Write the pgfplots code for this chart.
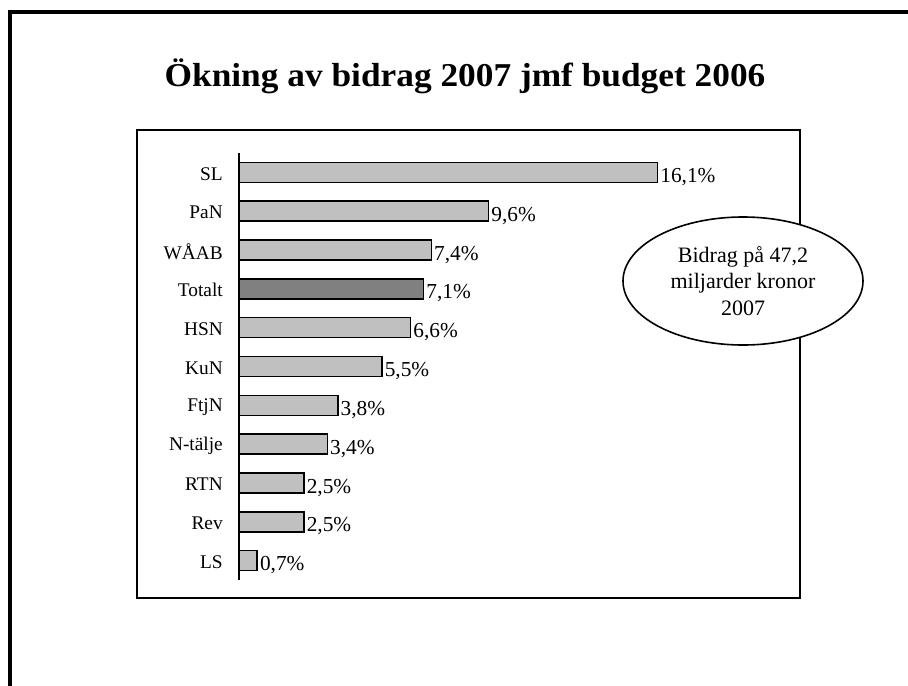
\documentclass[border=0pt]{standalone}
\usepackage{fontspec}
\setmainfont{Liberation Serif}
\usepackage{pgfplots}
\pgfplotsset{compat=1.18}
\definecolor{barfill}{HTML}{C0C0C0}
\definecolor{totfill}{HTML}{808080}

\begin{document}
\begin{tikzpicture}
% page in pixel units, origin top-left
\begin{scope}[x=0.75pt,y=-0.75pt]
\useasboundingbox (0,0) rectangle (908,686);
% outer frame (runs off the right and bottom edges)
\draw[line width=2.4pt] (10,720) -- (10,12) -- (930,12);
% chart box
\draw[line width=1.5pt] (137,130) rectangle (800,598);
\node[anchor=base, inner sep=0pt, font=\bfseries\fontsize{25}{30}\selectfont] at (465,86)
  {\scalebox{1.06}[1]{Ökning av bidrag 2007 jmf budget 2006}};
\end{scope}

\begin{axis}[
  at={(179.25pt,-435pt)}, anchor=south west,
  scale only axis, width=390pt, height=320.25pt,
  xmin=0, xmax=20, ymin=-0.5, ymax=10.5,
  y dir=reverse,
  xbar, bar width=15pt, bar shift=0pt,
  axis x line=none, axis y line=left,
  y axis line style={-, line width=1.1pt},
  ytick={0,...,10},
  yticklabels={SL,PaN,WÅAB,Totalt,HSN,KuN,FtjN,N-tälje,RTN,Rev,LS},
  major tick length=0pt,
  yticklabel style={font=\fontsize{14.5}{16}\selectfont, inner sep=0pt, xshift=-12pt, yshift=-1pt},
  nodes near coords, point meta=explicit symbolic,
  nodes near coords style={anchor=west, inner sep=1.5pt, yshift=-3.5pt, font=\fontsize{16}{18}\selectfont},
]
\addplot[fill=barfill, draw=black, line width=1.2pt] coordinates {
  (16.1,0) [16,1\%]
  (9.6,1) [9,6\%]
  (7.4,2) [7,4\%]
  (6.6,4) [6,6\%]
  (5.5,5) [5,5\%]
  (3.8,6) [3,8\%]
  (3.4,7) [3,4\%]
  (2.5,8) [2,5\%]
  (2.5,9) [2,5\%]
  (0.7,10) [0,7\%]
};
\addplot[fill=totfill, draw=black, line width=1.2pt] coordinates {
  (7.1,3) [7,1\%]
};
\end{axis}

\begin{scope}[x=0.75pt,y=-0.75pt]
\draw[fill=white, line width=1.2pt] (743,281) ellipse [x radius=90pt, y radius=48pt];
\node[align=center, font=\fontsize{16.5}{20}\selectfont] at (743,281) {Bidrag på 47,2\\miljarder kronor\\2007};
\end{scope}
\end{tikzpicture}
\end{document}
